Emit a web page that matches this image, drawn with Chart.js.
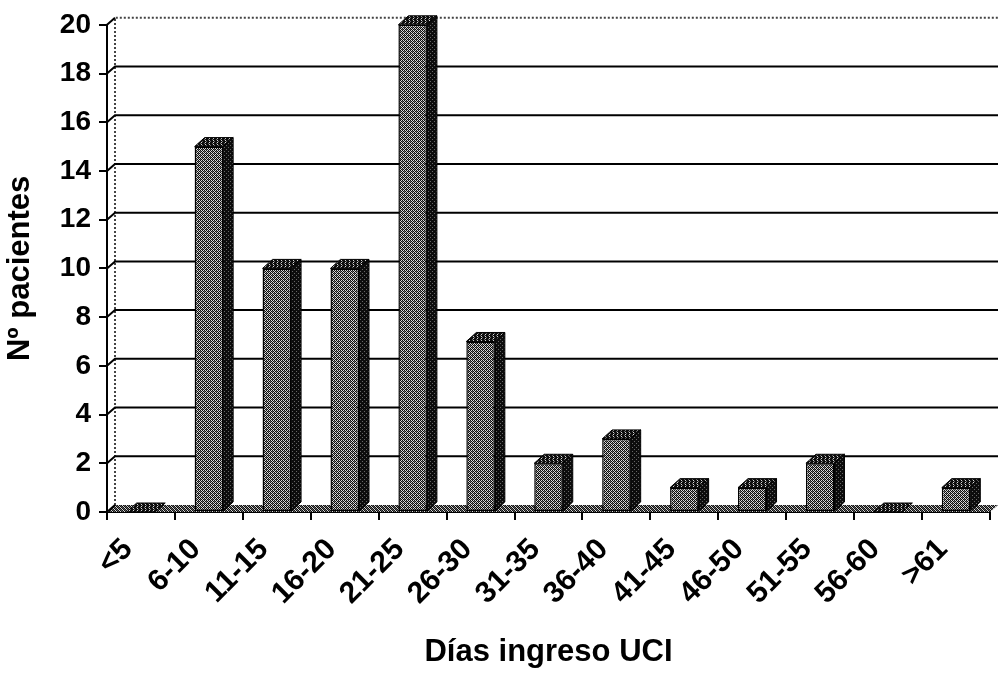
<!DOCTYPE html>
<html>
<head>
<meta charset="utf-8">
<script src="https://cdn.jsdelivr.net/npm/chart.js@4"></script>
<style>
  html, body { margin: 0; padding: 0; background: #fff; }
  #wrap { width: 998px; height: 675px; }
</style>
</head>
<body>
<div id="wrap"><canvas id="chart" width="998" height="675"></canvas></div>
<script>
const categories = ['<5', '6-10', '11-15', '16-20', '21-25', '26-30', '31-35', '36-40', '41-45', '46-50', '51-55', '56-60', '>61'];
const patients = [0, 15, 10, 10, 20, 7, 2, 3, 1, 1, 2, 0, 1];
const yTicks = [0, 2, 4, 6, 8, 10, 12, 14, 16, 18, 20];

// depth of the fake 3d
const WALL_DX = 8, WALL_DY = 7;
const BAR_DX = 10, BAR_DY = 9;

// dithered fills like the scanned print
function makePattern(cells) {
  const size = cells.length;
  const c = document.createElement('canvas');
  c.width = size; c.height = size;
  const g = c.getContext('2d');
  for (let j = 0; j < size; j++) {
    for (let i = 0; i < size; i++) {
      g.fillStyle = cells[j][i];
      g.fillRect(i, j, 1, 1);
    }
  }
  return g.createPattern(c, 'repeat');
}
const K = '#0d0d0d', L = '#d8d8d8', M = '#666';
const frontFill = makePattern([[K, L, K, L], [L, K, M, K], [K, L, K, L], [M, K, L, K]]);
const topFill = makePattern([[K, L, K, K], [K, K, M, K], [K, L, K, K], [M, K, K, K]]);
const sideFill = makePattern([[K, K, K, K], [K, K, M, K], [K, K, K, K], [M, K, K, K]]);
const floorFill = makePattern([[K, L, K, M], [M, K, L, K], [K, M, K, L], [L, K, M, K]]);

const boxPlugin = {
  id: 'box3d',
  beforeDatasetsDraw(chart) {
    const { ctx, chartArea: a, scales } = chart;
    const y = scales.y;
    ctx.save();
    // floor
    ctx.beginPath();
    ctx.moveTo(a.left, a.bottom);
    ctx.lineTo(a.right, a.bottom);
    ctx.lineTo(a.right + WALL_DX, a.bottom - WALL_DY);
    ctx.lineTo(a.left + WALL_DX, a.bottom - WALL_DY);
    ctx.closePath();
    ctx.fillStyle = floorFill;
    ctx.fill();
    // left wall edge and top edge
    ctx.setLineDash([2, 2]);
    ctx.strokeStyle = '#444';
    ctx.lineWidth = 2;
    ctx.beginPath();
    ctx.moveTo(a.left + WALL_DX, a.bottom - WALL_DY);
    ctx.lineTo(a.left + WALL_DX, a.top - WALL_DY);
    ctx.lineTo(a.right + WALL_DX, a.top - WALL_DY);
    ctx.stroke();
    ctx.setLineDash([]);
    // grid on the back wall
    ctx.strokeStyle = '#000';
    yTicks.forEach(v => {
      const py = y.getPixelForValue(v);
      ctx.lineWidth = 2;
      ctx.beginPath();
      ctx.moveTo(a.left, py);
      ctx.lineTo(a.left + WALL_DX, py - WALL_DY);
      if (v !== 0 && v !== 20) ctx.lineTo(a.right + WALL_DX, py - WALL_DY);
      ctx.stroke();
    });
    ctx.restore();
  },
  afterDatasetsDraw(chart) {
    const { ctx } = chart;
    const meta = chart.getDatasetMeta(0);
    ctx.save();
    ctx.strokeStyle = '#000';
    ctx.lineWidth = 1;
    meta.data.forEach(bar => {
      const { x, y, width, base } = bar.getProps(['x', 'y', 'width', 'base'], true);
      const l = x - width / 2, r = x + width / 2;
      // top
      ctx.beginPath();
      ctx.moveTo(l, y);
      ctx.lineTo(l + BAR_DX, y - BAR_DY);
      ctx.lineTo(r + BAR_DX, y - BAR_DY);
      ctx.lineTo(r, y);
      ctx.closePath();
      ctx.fillStyle = topFill;
      ctx.fill();
      ctx.stroke();
      // side
      if (base - y > 0.5) {
        ctx.beginPath();
        ctx.moveTo(r, y);
        ctx.lineTo(r + BAR_DX, y - BAR_DY);
        ctx.lineTo(r + BAR_DX, base - BAR_DY);
        ctx.lineTo(r, base);
        ctx.closePath();
        ctx.fillStyle = sideFill;
        ctx.fill();
        ctx.stroke();
      }
    });
    ctx.restore();
  }
};

const ctx = document.getElementById('chart').getContext('2d');
new Chart(ctx, {
  type: 'bar',
  data: {
    labels: categories,
    datasets: [{
      data: patients,
      backgroundColor: frontFill,
      borderColor: '#000',
      borderWidth: 1.5,
      borderSkipped: false,
      categoryPercentage: 1,
      barPercentage: 0.42
    }]
  },
  options: {
    responsive: false,
    animation: false,
    layout: { padding: { top: 20, right: 8, left: 0, bottom: 0 } },
    plugins: {
      legend: { display: false },
      tooltip: { enabled: false }
    },
    scales: {
      x: {
        afterFit(s) { s.height = 163; },
        border: { color: '#000', width: 2 },
        grid: { drawOnChartArea: false, tickLength: 8, color: '#000', lineWidth: 2, offset: true },
        ticks: {
          color: '#000',
          font: { family: 'Liberation Sans', size: 30, weight: 'bold' },
          minRotation: 45,
          maxRotation: 45,
          labelOffset: -13,
          padding: 12
        },
        title: {
          display: true,
          text: 'Días ingreso UCI',
          color: '#000',
          font: { family: 'Liberation Sans', size: 31, weight: 'bold' },
          padding: { top: 0, bottom: 4 }
        }
      },
      y: {
        min: 0,
        max: 20,
        afterFit(s) { s.width = 107; },
        afterBuildTicks(s) { s.ticks = yTicks.map(v => ({ value: v })); },
        border: { color: '#000', width: 2 },
        grid: { drawOnChartArea: false, tickLength: 8, color: '#000', lineWidth: 2 },
        ticks: {
          color: '#000',
          font: { family: 'Liberation Sans', size: 28, weight: 'bold' },
          padding: 8
        },
        title: {
          display: true,
          text: 'Nº pacientes',
          color: '#000',
          font: { family: 'Liberation Sans', size: 31, weight: 'bold' },
          padding: { top: 2, bottom: 0 }
        }
      }
    }
  },
  plugins: [boxPlugin]
});
</script>
</body>
</html>
